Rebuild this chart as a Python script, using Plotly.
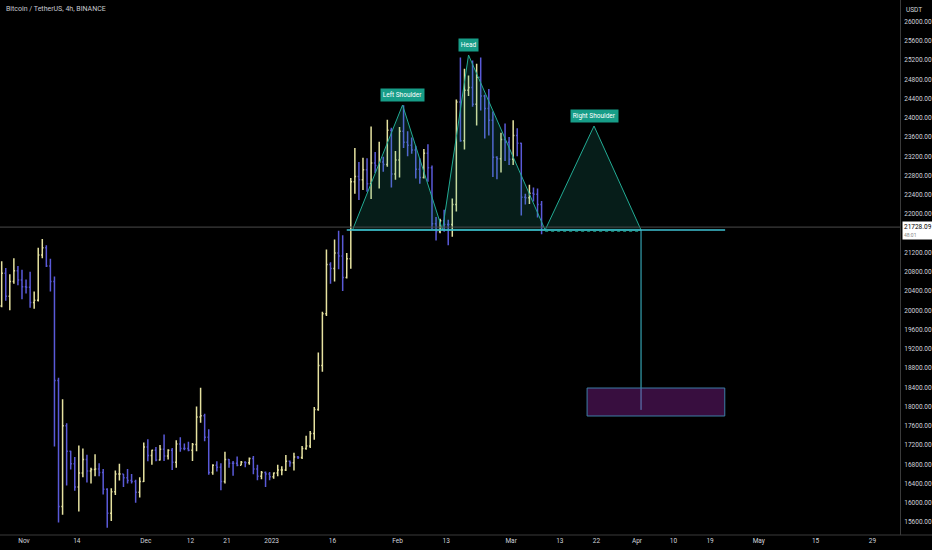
import pandas as pd
import plotly.graph_objects as go

# Daily BTC/USDT candles, 26 Oct 2022 .. 8 Mar 2023
start_day = '2022-10-26 12:00'

open_ = [
    20090, 20770, 20290, 20600, 20820, 20630,
    20490, 20480, 20160, 20210, 21150, 21300, 20920, 20600, 18540, 15920,
    17600, 17070, 16810, 16330, 16620, 16900, 16660, 16690, 16700, 16630,
    16280, 15780, 16230, 16600, 16600, 16520, 16460, 16440, 16220, 16440,
    17160, 16980, 17090, 16890, 17110, 16970, 17090, 16840, 17220, 17130,
    17130, 17090, 17210, 17780, 17810, 17360, 16630, 16780, 16740, 16440,
    16900, 16820, 16820, 16780, 16840, 16830, 16920, 16700, 16550, 16630, 16600,
    16540, 16620, 16680, 16680, 16860, 16830, 16950, 16940, 17130, 17180,
    17440, 17940, 18850, 19930, 20950, 20870, 21190, 21130, 20680, 21070,
    22670, 22780, 22710, 22920, 22630, 23060, 23010, 23080, 23030, 23740, 22830,
    23120, 23720, 23490, 23430, 23330, 22930, 22760, 23260, 22960, 21800,
    21630, 21860, 21780, 21780, 22200, 24330, 23520, 24570, 24630, 24280,
    24840, 24450, 24190, 23950, 23180, 23150, 23550, 23490,
    23140, 23630, 23470, 22350, 22340, 22430, 22410, 22200,
]
high = [
    21020, 20880, 20750, 21080, 20920, 20840,
    20640, 20800, 20390, 21300, 21480, 21350, 21070, 20700, 18600, 18150,
    17650, 17080, 16950, 17190, 17130, 17000, 16730, 17010, 16820, 16700,
    16300, 16300, 16670, 16810, 16600, 16700, 16600, 16480, 16530, 17250,
    17320, 17100, 17160, 17200, 17420, 17110, 17140, 17300, 17360, 17230,
    17270, 17240, 18000, 18390, 17850, 17530, 16800, 16860, 16820, 17060,
    16910, 16870, 16960, 16870, 16860, 16940, 16970, 16790, 16660, 16650, 16640,
    16630, 16790, 16760, 16990, 16880, 17040, 16970, 17180, 17390, 17490,
    17990, 19120, 19970, 21260, 21000, 21470, 21650, 21560, 21190, 22750,
    23370, 23080, 23170, 23160, 23820, 23290, 23500, 23190, 23960, 23790, 23310,
    23810, 24260, 23720, 23590, 23420, 23160, 23350, 23450, 23010, 21940,
    21900, 22090, 21880, 22320, 24380, 25250, 25020, 24880, 25190, 25120,
    25250, 24480, 24600, 24130, 23200, 23690, 23880, 23600,
    23950, 23780, 23480, 22420, 22610, 22550, 22530, 22270,
]
low = [
    20060, 20200, 20000, 20550, 20520, 20230,
    20350, 20050, 20030, 20180, 21080, 20900, 20390, 17170, 15590, 15750,
    16360, 16690, 16250, 15820, 16530, 16420, 16400, 16550, 16550, 16170,
    15480, 15620, 16160, 16460, 16330, 16400, 16400, 16000, 16110, 16430,
    16860, 16790, 16860, 16880, 16870, 16900, 16680, 16730, 17060, 17090,
    17070, 16870, 17070, 17660, 17280, 16580, 16580, 16650, 16260, 16400,
    16730, 16560, 16760, 16780, 16740, 16790, 16590, 16470, 16490, 16330, 16470,
    16500, 16550, 16570, 16660, 16750, 16670, 16910, 16910, 17100, 17140,
    17310, 17910, 18720, 19880, 20550, 20600, 20850, 20400, 20660, 20860,
    22420, 22290, 22500, 22460, 22310, 22850, 22530, 22880, 22980, 22550, 22710,
    22760, 23370, 23200, 23250, 22740, 22630, 22740, 22670, 21690, 21450,
    21600, 21630, 21350, 21530, 22050, 23500, 23340, 24450, 24230, 23840,
    24150, 23570, 23630, 22770, 22720, 22860, 23100, 23020,
    23020, 23200, 21970, 22200, 22210, 22260, 21930, 21580,
]
close = [
    20770, 20290, 20600, 20820, 20630, 20490,
    20480, 20160, 20210, 21150, 21300, 20920, 20600, 18540, 15920, 17600,
    17070, 16810, 16330, 16620, 16900, 16660, 16690, 16700, 16630, 16280,
    15780, 16230, 16600, 16600, 16520, 16460, 16440, 16220, 16440, 17160,
    16980, 17090, 16890, 17110, 16970, 17090, 16840, 17220, 17130, 17130,
    17090, 17210, 17780, 17810, 17360, 16630, 16780, 16740, 16440, 16900,
    16820, 16820, 16780, 16840, 16830, 16920, 16700, 16550, 16630, 16600, 16540,
    16620, 16680, 16680, 16860, 16830, 16950, 16940, 17130, 17180, 17440,
    17940, 18850, 19930, 20950, 20870, 21190, 21130, 20680, 21070, 22670,
    22780, 22710, 22920, 22630, 23060, 23010, 23080, 23030, 23740, 22830, 23120,
    23720, 23490, 23430, 23330, 22930, 22760, 23260, 22960, 21800, 21630,
    21860, 21780, 21780, 22200, 24330, 23520, 24570, 24630, 24280, 24840,
    24450, 24190, 23950, 23180, 23150, 23550, 23490, 23140,
    23630, 23470, 22350, 22340, 22430, 22410, 22200, 21728.09,
]
last_price = 21728.09

# Head and shoulders drawing
hs_dates = [
    '2023-01-20 22:00', '2023-02-02 06:00', '2023-02-12 02:00',
    '2023-02-18 12:00', '2023-03-09 09:00', '2023-03-21 10:00',
    '2023-04-02 00:00',
]
hs_prices = [21668, 24265, 21668, 25304, 21668, 23829, 21668]
hs_labels = ['', 'Left Shoulder', '', 'Head', '', 'Right Shoulder', '']
neckline_dates = ['2023-01-19 12:00', '2023-04-22 17:00']
neckline_price = 21668

# Target projection
target_price = 17930
target_box_dates = ['2023-03-19 17:00', '2023-04-22 15:00']
target_box_prices = [17803, 18384]

# Axes (21600 sits under the price tag, so it is not shown)
x_range = ['2022-10-26 02:00', '2023-06-04 19:00']
y_range = [15330, 26447]
price_ticks = [p for p in range(15600, 26001, 400) if p != 21600]
time_ticks = [
    '2022-11-01', '2022-11-14', '2022-12-01', '2022-12-12', '2022-12-21',
    '2023-01-01', '2023-01-16', '2023-02-01', '2023-02-13', '2023-03-01',
    '2023-03-13', '2023-03-22', '2023-04-01', '2023-04-10', '2023-04-19',
    '2023-05-01', '2023-05-15', '2023-05-29',
]
time_labels = [
    'Nov', '14', 'Dec', '12', '21', '2023', '16', 'Feb', '13', 'Mar',
    '13', '22', 'Apr', '10', '19', 'May', '15', '29',
]

FONT = 'Roboto'
AXIS_FONT = dict(family=FONT, size=6.5, color='#d1d4dc')
TEAL = '#22ab94'
CYAN = '#3fc0d2'


def build_chart():
    days = pd.date_range(start_day, periods=len(close), freq='D')

    fig = go.Figure()

    # Price bars (thin, like the 4h candles at this zoom)
    fig.add_trace(go.Ohlc(
        x=days, open=open_, high=high, low=low, close=close,
        increasing=dict(line=dict(color='#e6e2a0', width=1.5)),
        decreasing=dict(line=dict(color='#5a5ad8', width=1.5)),
        tickwidth=0.3,
        showlegend=False,
    ))

    # Current price line
    fig.add_hline(y=last_price, line=dict(color='#4a4a4a', width=1))

    # Target box and projection
    fig.add_shape(
        type='rect', xref='x', yref='y',
        x0=target_box_dates[0], x1=target_box_dates[1],
        y0=target_box_prices[0], y1=target_box_prices[1],
        fillcolor='rgba(156,39,176,0.36)',
        line=dict(color='#3d7fa8', width=1),
    )
    fig.add_trace(go.Scatter(
        x=[hs_dates[-1], hs_dates[-1]], y=[neckline_price, target_price],
        mode='lines', line=dict(color=CYAN, width=1),
        hoverinfo='skip', showlegend=False,
    ))

    # Pattern fill + outline
    fig.add_trace(go.Scatter(
        x=hs_dates + [hs_dates[0]], y=hs_prices + [hs_prices[0]],
        mode='lines', fill='toself',
        fillcolor='rgba(34,171,148,0.17)',
        line=dict(color=TEAL, width=1),
        hoverinfo='skip', showlegend=False,
    ))
    fig.add_trace(go.Scatter(
        x=neckline_dates, y=[neckline_price, neckline_price],
        mode='lines', line=dict(color=CYAN, width=1.3),
        hoverinfo='skip', showlegend=False,
    ))
    fig.add_trace(go.Scatter(
        x=[hs_dates[4], hs_dates[6]],
        y=[neckline_price - 25, neckline_price - 25],
        mode='lines', line=dict(color=TEAL, width=1, dash='dot'),
        hoverinfo='skip', showlegend=False,
    ))

    for d, p, label in zip(hs_dates, hs_prices, hs_labels):
        if not label:
            continue
        fig.add_annotation(
            x=d, y=p, text=label, showarrow=False,
            yanchor='bottom', yshift=3,
            bgcolor='#179d88', borderpad=1.8,
            font=dict(family=FONT, size=6.5, color='white'),
        )

    # Header, unit and price tag
    fig.add_annotation(
        xref='paper', yref='paper', x=0.004, y=1, yshift=-3,
        xanchor='left', yanchor='top', showarrow=False,
        text='Bitcoin / TetherUS, 4h, BINANCE',
        font=dict(family=FONT, size=7, color='#c8cad0'),
    )
    fig.add_annotation(
        xref='paper', yref='paper', x=1.005, y=1, yshift=-4,
        xanchor='left', yanchor='top', showarrow=False,
        text='USDT', font=AXIS_FONT,
    )
    fig.add_annotation(
        xref='paper', yref='y', x=1.002, y=last_price, yshift=6,
        xanchor='left', yanchor='top', showarrow=False, align='left',
        text=f"{last_price:.2f}<br><span style='font-size:5px;color:#888'>48:01</span>",
        bgcolor='white', borderpad=1,
        font=dict(family=FONT, size=6.5, color='black'),
    )

    # Axis separators
    fig.add_shape(type='line', xref='paper', yref='paper',
                  x0=0, x1=1.04, y0=0, y1=0,
                  line=dict(color='#3a3a3a', width=1))

    fig.update_xaxes(
        type='date', range=x_range,
        rangeslider=dict(visible=False),
        tickvals=time_ticks, ticktext=time_labels,
        tickfont=AXIS_FONT, ticks='', showgrid=False,
        zeroline=False, showline=False,
    )
    fig.update_yaxes(
        side='right', range=y_range,
        tickvals=price_ticks, tickformat='.2f',
        tickfont=AXIS_FONT, ticks='outside', ticklen=2,
        tickcolor='rgba(0,0,0,0)', showgrid=False, zeroline=False,
        showline=True, linecolor='#3a3a3a', linewidth=1,
    )
    fig.update_layout(
        width=932, height=550,
        margin=dict(l=0, r=32, t=0, b=15, autoexpand=False),
        paper_bgcolor='black', plot_bgcolor='black',
        showlegend=False,
    )
    return fig


if __name__ == '__main__':
    fig = build_chart()
    # drop the page's default 8px body margin so the chart fills the window
    fig.write_html(
        'out.html',
        config={'displayModeBar': False},
        post_script="document.body.style.margin='0';"
                    "document.body.style.background='black';",
    )
